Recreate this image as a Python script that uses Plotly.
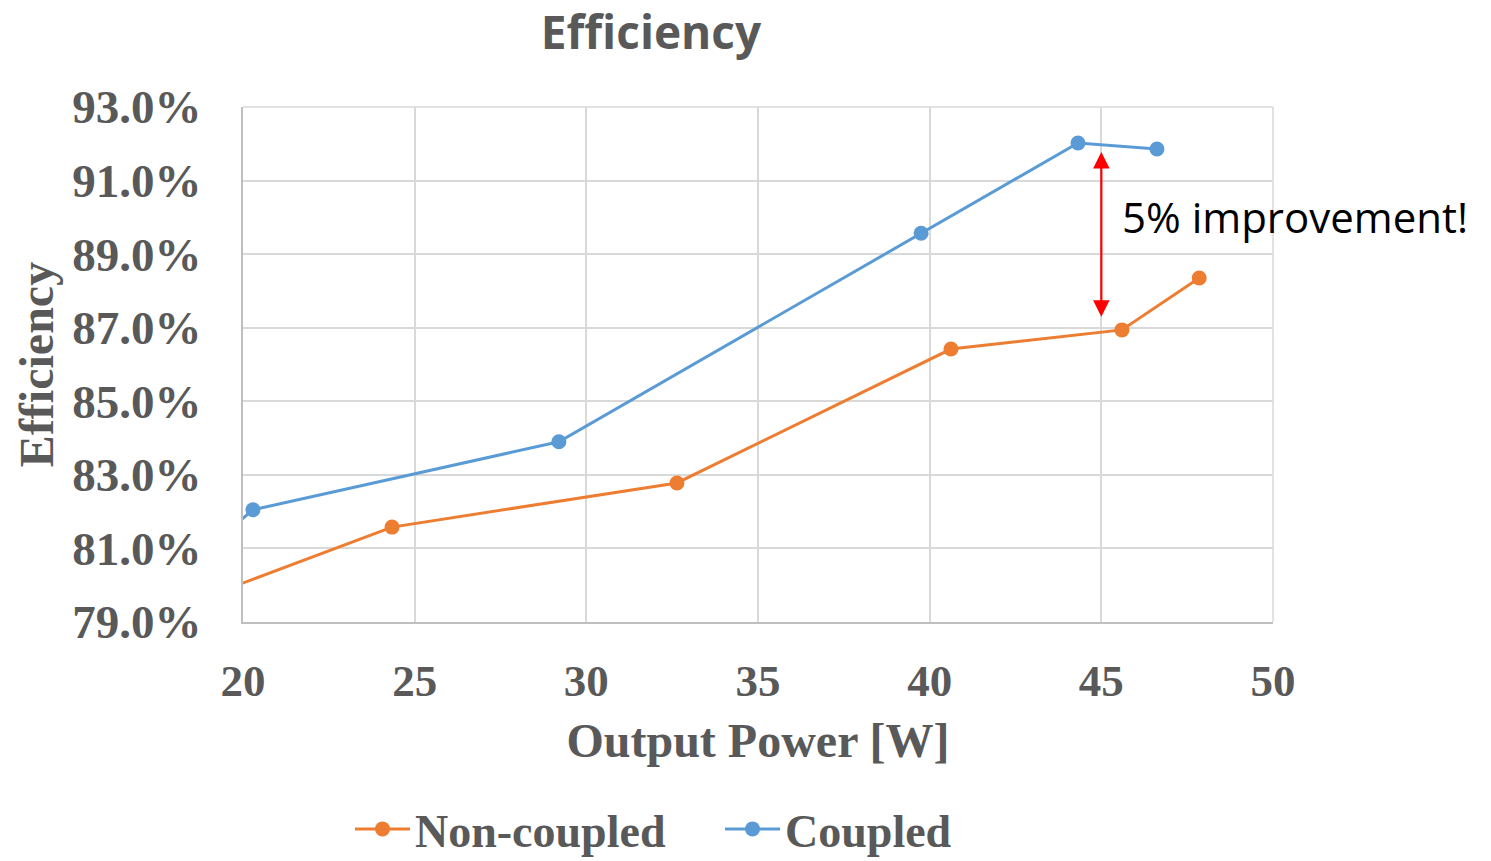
import plotly.graph_objects as go

# Data (efficiency in %)
noncoupled_x = [18.0, 24.34, 32.64, 40.62, 45.6, 47.85]
noncoupled_y = [79.36, 81.58, 82.78, 86.42, 86.94, 88.35]
coupled_x = [19.6, 20.29, 29.2, 39.75, 44.32, 46.62]
coupled_y = [81.5, 82.05, 83.9, 89.57, 92.02, 91.86]

arrow_x = 45.0
arrow_top = 91.78
arrow_bottom = 87.26
note_text = "5% improvement!"

ORANGE = "#ED7D31"
BLUE = "#5B9BD5"
GRAY = "#595959"
SERIF = "Liberation Serif, Times New Roman, serif"

fig = go.Figure()
fig.add_trace(go.Scatter(
    x=noncoupled_x, y=noncoupled_y, mode="lines+markers", name="<b>Non-coupled</b>",
    line=dict(color=ORANGE, width=3), marker=dict(color=ORANGE, size=15)))
fig.add_trace(go.Scatter(
    x=coupled_x, y=coupled_y, mode="lines+markers", name="<b>Coupled</b>",
    line=dict(color=BLUE, width=3), marker=dict(color=BLUE, size=15)))

fig.add_annotation(x=arrow_x, y=arrow_top, ax=arrow_x, ay=arrow_bottom,
                   xref="x", yref="y", axref="x", ayref="y",
                   showarrow=True, arrowside="end+start", arrowhead=2, startarrowhead=2,
                   arrowsize=1.5, startarrowsize=1.5,
                   arrowwidth=2.2, arrowcolor="#FF0000", text="")
fig.add_annotation(x=45.55, y=90.01, xref="x", yref="y", text=note_text,
                   showarrow=False, xanchor="left", yanchor="middle",
                   font=dict(family="Open Sans, sans-serif", size=42, color="#000000"))

fig.update_layout(
    width=1491, height=861,
    margin=dict(l=243, r=218, t=107, b=239),
    paper_bgcolor="white", plot_bgcolor="white",
    title=dict(text="<b>Efficiency</b>", x=651/1491, xanchor="center", y=1-33/861, yanchor="middle",
               font=dict(family="Open Sans, sans-serif", size=46, color=GRAY)),
    showlegend=True,
    legend=dict(orientation="h", x=(350-243)/1030, xanchor="left", yref="container",
                y=1-829/861, yanchor="middle", entrywidth=300,
                font=dict(family=SERIF, size=46, color=GRAY), itemwidth=55,
                bgcolor="rgba(0,0,0,0)"),
    font=dict(family=SERIF, color=GRAY),
)
fig.update_xaxes(range=[20, 50], dtick=5, tick0=20,
                 showgrid=True, gridcolor="#D9D9D9", gridwidth=1.5,
                 showline=True, linecolor="#BFBFBF", linewidth=2,
                 zeroline=False, ticks="", ticklabelstandoff=18,
                 tickfont=dict(family=SERIF, size=45, color=GRAY, weight="bold"),
                 title=dict(text="<b>Output Power [W]</b>", standoff=18,
                            font=dict(family=SERIF, size=48, color=GRAY)),
                 mirror=False)
fig.update_yaxes(range=[79, 93], dtick=2, tick0=79, tickformat=".1f", ticksuffix="%",
                 showgrid=True, gridcolor="#D9D9D9", gridwidth=1.5,
                 showline=True, linecolor="#BFBFBF", linewidth=2,
                 zeroline=False, ticks="", ticklabelstandoff=30,
                 tickfont=dict(family=SERIF, size=47, color=GRAY, weight="bold"),
                 title=dict(text="<b>Efficiency</b>", standoff=4,
                            font=dict(family=SERIF, size=48, color=GRAY)))
# right and top borders as gridlines
fig.add_shape(type="line", xref="paper", yref="paper", x0=1, x1=1, y0=0, y1=1,
              line=dict(color="#D9D9D9", width=1.5), layer="below")
fig.add_shape(type="line", xref="paper", yref="paper", x0=0, x1=1, y0=1, y1=1,
              line=dict(color="#D9D9D9", width=1.5), layer="below")

fig.write_html("out.html")
